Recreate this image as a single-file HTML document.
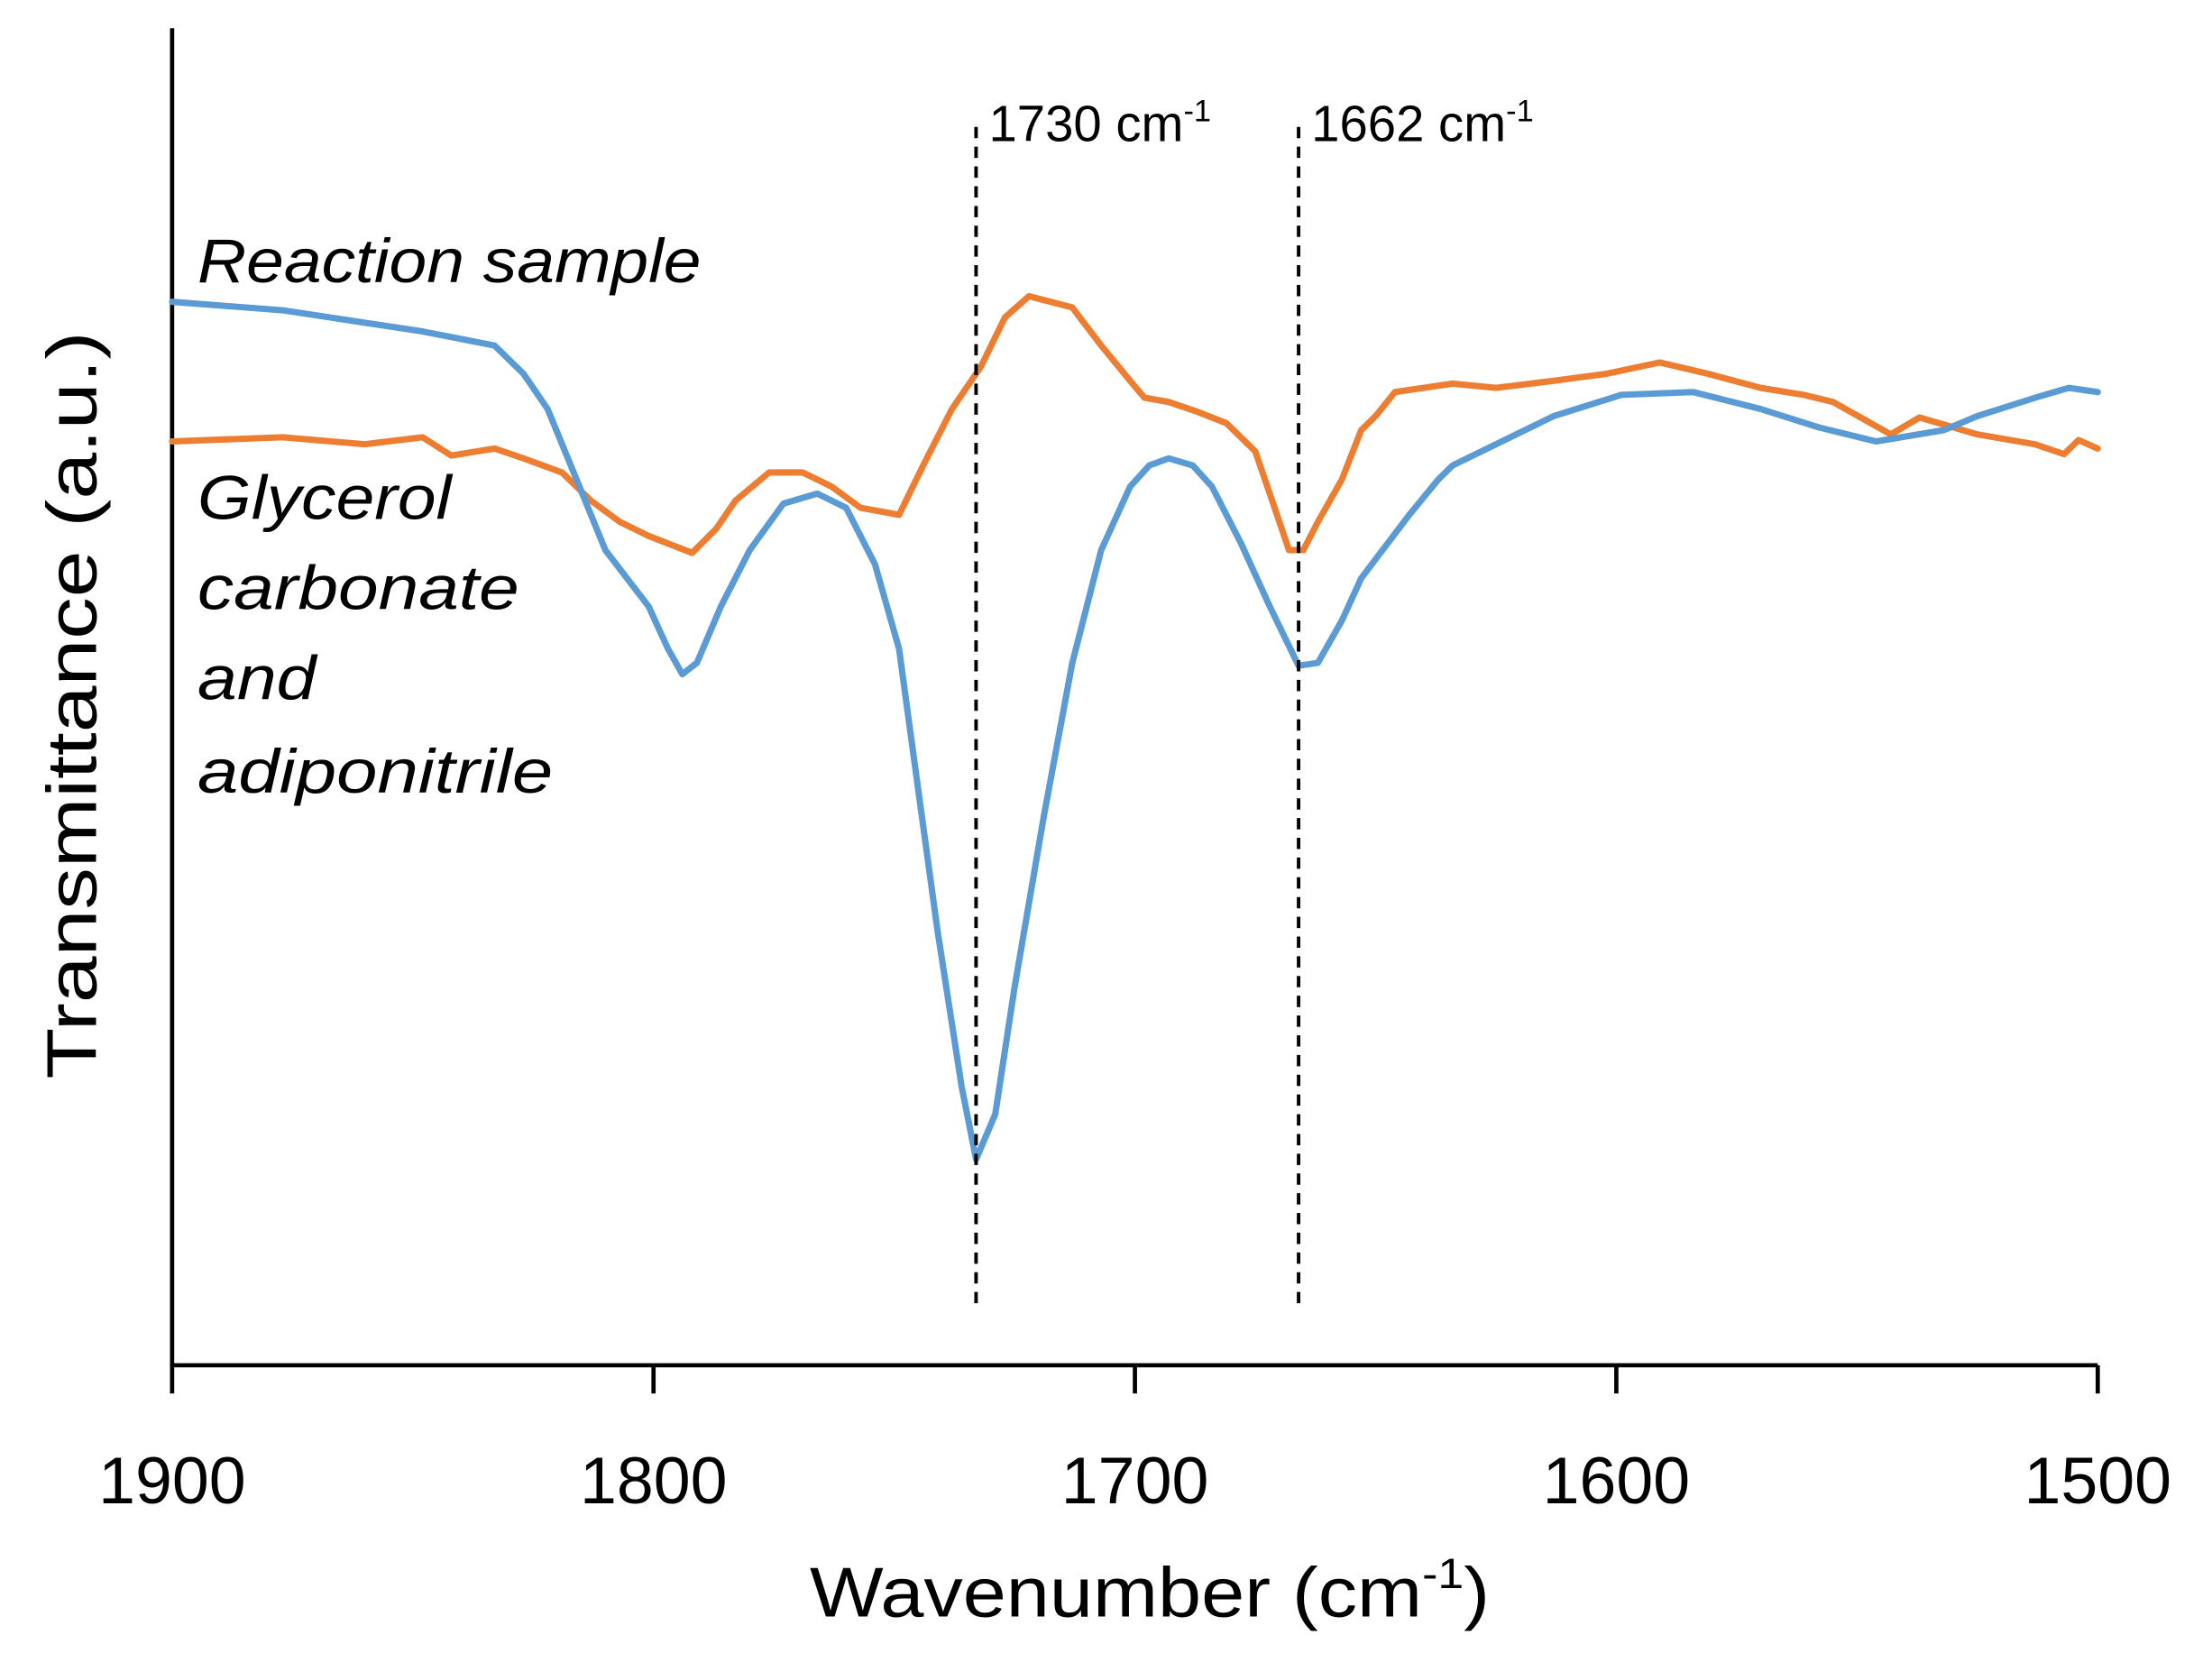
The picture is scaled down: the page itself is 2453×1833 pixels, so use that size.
<!DOCTYPE html>
<html><head><meta charset="utf-8"><style>
html,body{margin:0;padding:0;background:#fff}
svg{display:block}
text{font-family:"Liberation Sans",sans-serif;fill:#000}
</style></head><body>
<svg id="chart" width="2453" height="1833" viewBox="0 0 1568 1172" preserveAspectRatio="none" xmlns="http://www.w3.org/2000/svg">
<g id="axes"></g>
<g id="marks"></g>
<text transform="translate(68,500) rotate(-90)" text-anchor="middle" font-size="50" textLength="530" lengthAdjust="spacingAndGlyphs">Transmittance (a.u.)</text>
<text x="815" y="1146" text-anchor="middle" font-size="50" textLength="482" lengthAdjust="spacingAndGlyphs">Wavenumber (cm<tspan font-size="30" dy="-20">-1</tspan><tspan dy="20">)</tspan></text>
<text x="140" y="200" font-size="44" font-style="italic" textLength="357" lengthAdjust="spacingAndGlyphs">Reaction sample</text>
<g font-size="44" font-style="italic">
<text x="140" y="368" textLength="180" lengthAdjust="spacingAndGlyphs">Glycerol</text>
<text x="140" y="432" textLength="228" lengthAdjust="spacingAndGlyphs">carbonate</text>
<text x="140" y="496" textLength="84" lengthAdjust="spacingAndGlyphs">and</text>
<text x="140" y="562" textLength="252" lengthAdjust="spacingAndGlyphs">adiponitrile</text>
</g>
</svg>
<script>
const tickValues=[1900,1800,1700,1600,1500];
const tickLabels=["1900","1800","1700","1600","1500"];
const blueWn=[1900,1877,1848,1833,1827,1822,1816,1810,1801,1797,1794,1791,1786,1780,1773,1766,1760,1754,1749,1745,1741,1736,1733,1729,1725,1719,1713,1707,1701,1697,1693,1688,1684,1678,1672,1666,1662,1657,1653,1643,1637,1634,1613,1599,1584,1570,1558,1546,1532,1525,1513,1506,1500];
const blueT=[78.6,78.0,76.5,75.5,73.5,71.0,66.0,61.0,57.0,54.0,52.2,53.0,57.0,61.0,64.3,65.0,64.0,60.0,54.0,44.0,34.0,23.0,17.8,21.0,30.0,42.0,53.0,61.0,65.5,67.0,67.5,67.0,65.5,61.5,57.0,52.8,53.0,56.0,59.0,63.5,66.0,67.0,70.5,72.0,72.2,71.0,69.7,68.7,69.5,70.5,71.8,72.5,72.2];
const orangeWn=[1900,1877,1860,1848,1842,1833,1827,1819,1813,1807,1801,1792,1787,1783,1776,1769,1763,1757,1749,1744,1738,1732,1727,1722,1713,1707,1701,1698,1693,1687,1681,1675,1671,1668,1665,1662,1657,1653,1650,1646,1634,1625,1613,1602,1591,1581,1570,1561,1555,1543,1537,1525,1513,1507,1504,1500];
const orangeT=[68.7,69.0,68.5,69.0,67.7,68.2,67.5,66.5,64.5,63.0,62.0,60.8,62.5,64.5,66.5,66.5,65.5,64.0,63.5,67.0,71.0,74.0,77.5,79.0,78.2,75.5,73.0,71.8,71.5,70.8,70.0,68.0,64.0,61.0,61.0,63.0,66.0,69.5,70.5,72.2,72.8,72.5,73.0,73.5,74.3,73.5,72.5,72.0,71.5,69.2,70.4,69.2,68.5,67.8,68.8,68.2];
const markerWn=[1733,1666];
const markerLabels=["1730","1662"];

const NS="http://www.w3.org/2000/svg";
function xScale(w){return 122+(1900-w)*(1365/400);}
function yScale(t){return 1000-10*t;}
function mk(tag,attrs,parent){const e=document.createElementNS(NS,tag);for(const k in attrs)e.setAttribute(k,attrs[k]);parent.appendChild(e);return e;}
const axes=document.getElementById('axes'),marks=document.getElementById('marks');
let yAxis=mk('line',{x1:122,y1:20,x2:122,y2:968,stroke:'#000','stroke-width':3},axes);


let xAxis=mk('line',{x1:122,y1:968,x2:1487,y2:968,stroke:'#000','stroke-width':3},axes);


tickValues.forEach((v,i)=>{
  const x=xScale(v);
  let t=mk('line',{x1:x,y1:968,x2:x,y2:988,stroke:'#000','stroke-width':3},axes);
  
  
  let l=mk('text',{x:x,y:1066,'text-anchor':'middle','font-size':47},axes);
  
  
  l.textContent=tickLabels[i];
});
function series(wn,tv,color,name){
  const d=wn.map((w,i)=>(i?'L':'M')+xScale(w).toFixed(1)+' '+yScale(tv[i]).toFixed(1)).join(' ');
  let p=mk('path',{d:d,fill:'none',stroke:color,'stroke-width':4.5,'stroke-linejoin':'round','stroke-linecap':'round'},marks);
  
  
}
series(orangeWn,orangeT,'#ED7D31','glycerol-carbonate-line');
series(blueWn,blueT,'#5B9BD5','reaction-sample-line');
markerWn.forEach((w,i)=>{
  const x=xScale(w);
  let l=mk('line',{x1:x,y1:90,x2:x,y2:930,stroke:'#000','stroke-width':2.5,'stroke-dasharray':'8 6'},marks);
  
  
  let t=mk('text',{x:x+9,y:100,'font-size':36},marks);
  
  
  t.textContent=markerLabels[i]+' cm';
  let s=mk('tspan',{'font-size':22,dy:-14},t);
  s.textContent='-1';
});
</script>
</body></html>
